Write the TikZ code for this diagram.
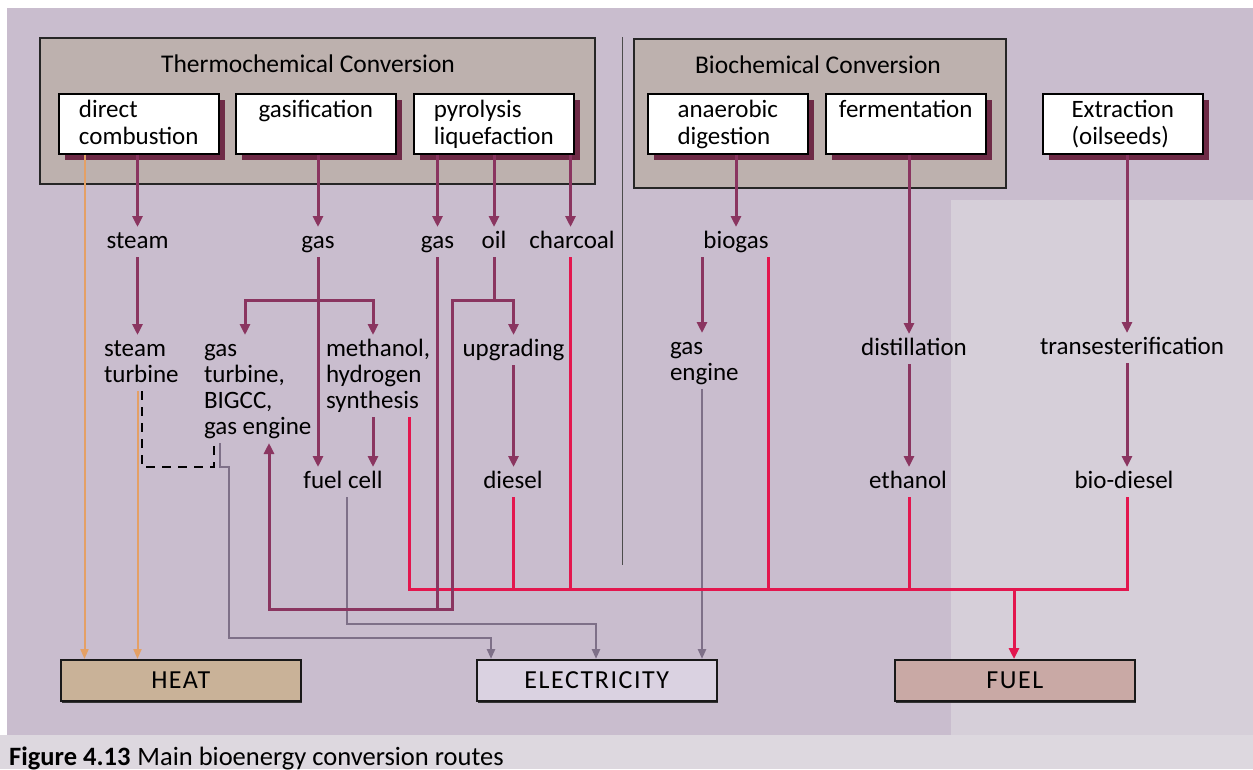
\documentclass[tikz,border=0pt]{standalone}
\usepackage{fontspec}
\setmainfont{Carlito}
\usetikzlibrary{arrows.meta,shadows}
\definecolor{bgmain}{HTML}{C9BDCE}
\definecolor{bgright}{HTML}{D6CFD9}
\definecolor{bgcap}{HTML}{DDD8DF}
\definecolor{grpfill}{HTML}{BDB1AE}
\definecolor{shd}{HTML}{6E2A46}
\definecolor{mar}{HTML}{8A3560}
\definecolor{rdc}{HTML}{E3164E}
\definecolor{gyc}{HTML}{7E7088}
\definecolor{orc}{HTML}{E4A065}
\definecolor{heatc}{HTML}{C9B298}
\definecolor{elecc}{HTML}{DAD2E1}
\definecolor{fuelc}{HTML}{C9A9A5}
\newcommand\mylbl{\fontsize{25}{26}\selectfont}
\newcommand\mybox{\fontsize{25}{27}\selectfont}
\newcommand\mytitle{\fontsize{25.5}{27}\selectfont}
\newcommand\topS{\rule{0pt}{21pt}}
\newcommand\botS{\rule[-9pt]{0pt}{9pt}}
\newcommand\btop{\rule{0pt}{21pt}}
\newcommand\bbot{\rule[-7pt]{0pt}{7pt}}
\begin{document}
\begin{tikzpicture}[x=1pt,y=-1pt,
  grp/.style={draw=black!85,line width=1.5pt,fill=grpfill,anchor=north west,inner sep=0pt},
  wbox/.style={draw=black,line width=1.5pt,fill=white,anchor=north west,minimum width=160pt,minimum height=60pt,
     inner xsep=4pt,inner ysep=2pt,align=left,font=\mybox,
     drop shadow={shadow xshift=6pt,shadow yshift=-6pt,fill=shd,opacity=1}},
  obox/.style={draw=black!90,line width=1.5pt,anchor=north west,minimum width=240pt,minimum height=41pt,inner sep=0pt,
     font=\fontsize{26}{28}\selectfont\addfontfeature{LetterSpace=6},
     drop shadow={shadow xshift=1pt,shadow yshift=-2pt,fill=black!80,opacity=1}},
  lbl/.style={inner sep=0pt,outer sep=0pt,font=\mylbl,text height=21pt,text depth=9pt,anchor=base},
  mlbl/.style={inner sep=0pt,outer sep=0pt,font=\mylbl,align=left,anchor=north west},
  ttl/.style={inner sep=0pt,font=\mytitle,anchor=base},
  mr/.style={draw=mar,line width=3pt},
  mra/.style={mr,-{Triangle[width=10pt,length=11pt]}},
  rd/.style={draw=rdc,line width=3pt},
  rda/.style={rd,-{Triangle[width=10pt,length=11pt]}},
  gy/.style={draw=gyc,line width=2.5pt},
  gya/.style={gy,-{Triangle[width=8pt,length=10pt]}},
  ora/.style={draw=orc,line width=2pt,-{Triangle[width=8pt,length=10pt]}},
  dsh/.style={draw=black,line width=2.2pt,dash pattern=on 9pt off 7pt}
]
% background
\fill[white] (0,0) rectangle (1253,769);
\fill[bgmain] (7,8) rectangle (1253,735);
\fill[bgright] (951,200) rectangle (1253,735);
\fill[bgcap] (0,735) rectangle (1253,769);

% groups
\node[grp,minimum width=555pt,minimum height=146pt] (thermo) at (39,37) {};
\node[grp,minimum width=372pt,minimum height=149pt] (bio) at (633,38) {};
\node[ttl] (thermoT) at (308,72) {Thermochemical Conversion};
\node[ttl] (bioT) at (818,73) {Biochemical Conversion};
\draw[black!70,line width=1pt] (622,37) -- (622,565);

% process boxes
\node[wbox] (dc) at (58,93) {\btop direct\\combustion\bbot};
\node[wbox] (gf) at (235,93) {\btop gasification\\\bbot};
\node[wbox] (py) at (413,93) {\btop pyrolysis\\liquefaction\bbot};
\node[wbox] (ad) at (647,93) {\btop anaerobic\\digestion\bbot};
\node[wbox] (fe) at (825,93) {\btop fermentation\\\bbot};
\node[wbox] (ex) at (1042,93) {\btop Extraction\\(oilseeds)\bbot};

% row 1 labels
\node[lbl] (steam) at (137.5,248) {steam};
\node[lbl] (gas1) at (318,248) {gas};
\node[lbl] (gas2) at (437.5,248) {gas};
\node[lbl] (oil) at (494,248) {oil};
\node[lbl] (char) at (572,248) {charcoal};
\node[lbl] (bg) at (736,248) {biogas};

% row 2 labels
\node[mlbl] (stt) at (104,335) {\topS steam\\turbine\botS};
\node[mlbl] (gt) at (204,335) {\topS gas\\turbine,\\BIGCC,\\gas engine\botS};
\node[mlbl] (mh) at (326,335) {\topS methanol,\\hydrogen\\synthesis\botS};
\node[lbl] (up) at (513.5,356) {upgrading};
\node[mlbl] (geb) at (670,333) {\topS gas\\engine\botS};
\node[lbl] (dist) at (914,355) {distillation};
\node[lbl] (trans) at (1132,354) {transesterification};

% row 3 labels
\node[lbl] (fc) at (343,488) {fuel cell};
\node[lbl] (diesel) at (513,488) {diesel};
\node[lbl] (eth) at (908,488) {ethanol};
\node[lbl] (bd) at (1124,488) {bio-diesel};

% output boxes
\node[obox,fill=heatc] (heat) at (60,659) {HEAT};
\node[obox,fill=elecc] (elec) at (476,659) {ELECTRICITY};
\node[obox,fill=fuelc] (fuel) at (894,659) {FUEL};

% caption
\node[inner sep=0pt,anchor=base west,font=\fontsize{26.5}{28}\selectfont] (cap) at (9,765)
  {\textbf{Figure 4.13}\hspace{7pt}Main bioenergy conversion routes};

% columns and rows
\coordinate (kOr) at (84.5,0);
\coordinate (kDash) at (142,0);
\coordinate (kDashR) at (214,0);
\coordinate (kGe1) at (220,0);
\coordinate (kGe2) at (229,0);
\coordinate (kGT) at (245,0);
\coordinate (kLoop) at (269,0);
\coordinate (kFC) at (347,0);
\coordinate (kMe) at (373,0);
\coordinate (kSy) at (409,0);
\coordinate (kLp2) at (452.5,0);
\coordinate (kCh) at (570.5,0);
\coordinate (kBgL) at (702,0);
\coordinate (kBgR) at (768.5,0);
\coordinate (kFe) at (909,0);
\coordinate (kFuel) at (1014,0);
\coordinate (kEx) at (1127,0);
\coordinate (kE1) at (491,0);
\coordinate (kE2) at (596,0);
\coordinate (rBr) at (0,300);
\coordinate (rDash) at (0,467);
\coordinate (rBus) at (0,589);
\coordinate (rLoop) at (0,609);
\coordinate (rG1) at (0,624);
\coordinate (rG2) at (0,638);

% orange to heat
\draw[ora] (dc.south -| kOr) -- (heat.north -| kOr);
\draw[ora] (stt.south -| steam) -- (heat.north -| steam);

% dashed link
\draw[dsh] (stt.south -| kDash) -- (kDash |- rDash) -- (kDashR |- rDash) -- (gt.south -| kDashR);

% gray to electricity
\draw[gya] (gt.south -| kGe1) -- (kGe1 |- rDash) -- (kGe2 |- rDash) -- (kGe2 |- rG2) -| (elec.north -| kE1);
\draw[gya] (fc.south -| kFC) -- (kFC |- rG1) -| (elec.north -| kE2);
\draw[gya] (geb.south -| kBgL) -- (elec.north -| kBgL);

% red to fuel
\draw[rd] (mh.south -| kSy) -- (kSy |- rBus) -- (kEx |- rBus) -- (bd.south -| kEx);
\draw[rd] (diesel.south -| up) -- (up |- rBus);
\draw[rd] (char.south -| kCh) -- (kCh |- rBus);
\draw[rd] (bg.south -| kBgR) -- (kBgR |- rBus);
\draw[rd] (eth.south -| kFe) -- (kFe |- rBus);
\draw[rda] (kFuel |- rBus) -- (fuel.north -| kFuel);

% maroon process arrows
\draw[mra] (dc.south -| steam) -- (steam.north);
\draw[mra] (steam.south) -- (stt.north -| steam);
\draw[mra] (gf.south -| gas1) -- (gas1.north);
\draw[mra] (gas1.south) -- (fc.north -| gas1);
\draw[mra] (gas1 |- rBr) -| (gt.north -| kGT);
\draw[mra] (gas1 |- rBr) -| (mh.north -| kMe);
\draw[mra] (mh.south -| kMe) -- (fc.north -| kMe);
\draw[mra] (py.south -| gas2) -- (gas2.north);
\draw[mra] (py.south -| oil) -- (oil.north);
\draw[mra] (py.south -| kCh) -- (char.north -| kCh);
\draw[mr] (gas2.south) -- (gas2 |- rLoop);
\draw[mr] (oil.south) -- (oil |- rBr);
\draw[mra] (oil |- rBr) -| (up.north);
\draw[mra] (oil |- rBr) -| (kLp2 |- rLoop) -| (gt.south -| kLoop);
\draw[mra] (up.south) -- (diesel.north -| up);
\draw[mra] (ad.south -| bg) -- (bg.north);
\draw[mra] (bg.south -| kBgL) -- (geb.north -| kBgL);
\draw[mra] (fe.south -| kFe) -- (dist.north -| kFe);
\draw[mra] (dist.south -| kFe) -- (eth.north -| kFe);
\draw[mra] (ex.south -| kEx) -- (trans.north -| kEx);
\draw[mra] (trans.south -| kEx) -- (bd.north -| kEx);
\end{tikzpicture}
\end{document}
